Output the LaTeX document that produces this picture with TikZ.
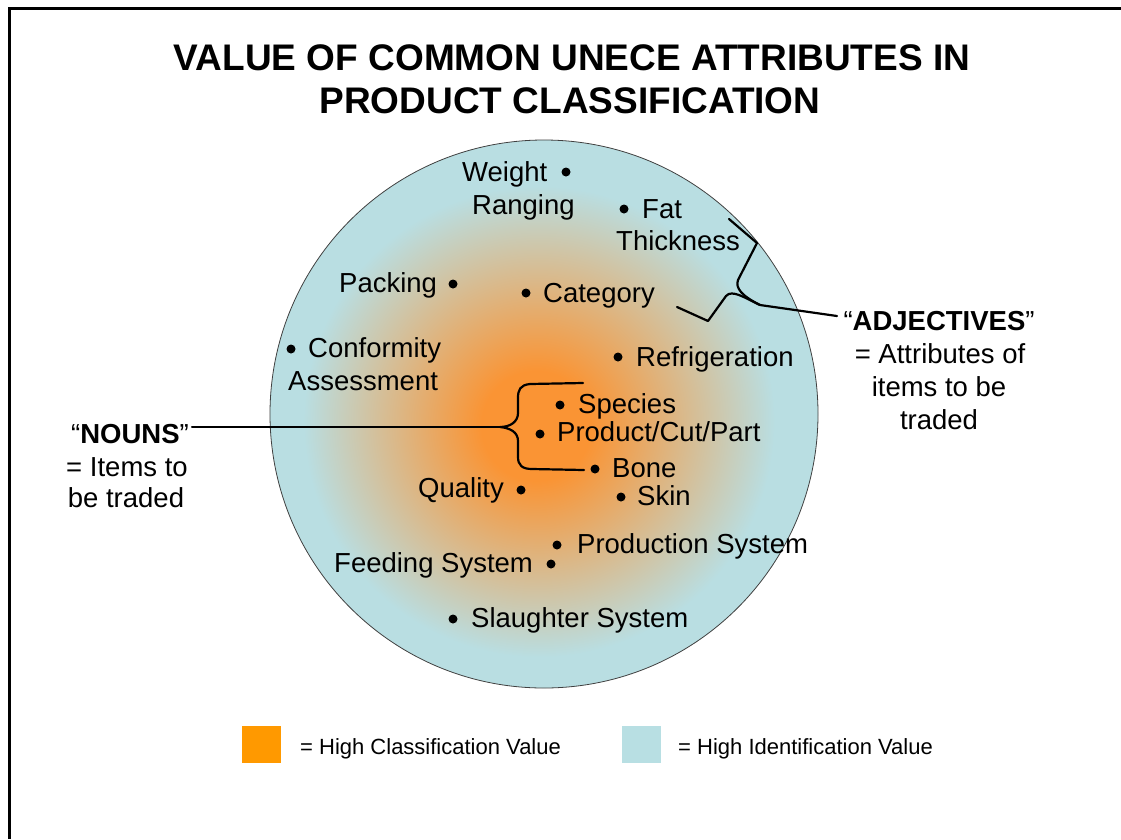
\documentclass[tikz,border=0pt]{standalone}
\usepackage{fontspec}
\setmainfont{Liberation Sans}
\definecolor{orng}{RGB}{250,148,52}
\definecolor{lblue}{RGB}{185,222,226}
\definecolor{legor}{RGB}{255,153,0}
\definecolor{legbl}{RGB}{184,223,227}
\pgfdeclareradialshading{orb}{\pgfpoint{-0.8bp}{-1.2bp}}{color(0bp)=(orng); color(5bp)=(orng); color(21.5bp)=(lblue); color(50bp)=(lblue)}
\begin{document}
\begin{tikzpicture}[x=1pt,y=-1pt,
  lab/.style={font=\fontsize{27.5}{32}\selectfont, inner sep=0pt, anchor=base west},
  blab/.style={font=\fontsize{27.5}{32}\selectfont, inner sep=0pt, anchor=base},
  bullet/.style={circle, fill=black, inner sep=0pt, minimum size=9pt},
  legtxt/.style={font=\fontsize{22}{26}\selectfont, inner sep=0pt, anchor=base west},
  ttl/.style={font=\fontsize{37}{44}\selectfont\bfseries, inner sep=0pt, anchor=base},
  brace/.style={line width=2.2pt, line join=round, line cap=round}]
\useasboundingbox (0,0) rectangle (1121,839);
\fill[white] (0,0) rectangle (1121,839);
% frame
\draw[line width=3pt] (9,839) -- (9,8) -- (1121,8);
% title
\node[ttl] (t1) at (572,70) {VALUE OF COMMON UNECE ATTRIBUTES IN};
\node[ttl] (t2) at (570,113) {PRODUCT CLASSIFICATION};
% circle
\shade[shading=orb] (544,414) circle (274);
\draw[line width=0.8pt, black!75] (544,414) circle (274);
% labels
\node[lab] (weight) at (462,181) {Weight};
\node[lab] (ranging) at (472,214) {Ranging};
\node[lab] (fat) at (642,218) {Fat};
\node[lab] (thick) at (616,250) {Thickness};
\node[lab] (packing) at (339,292) {Packing};
\node[lab] (category) at (543,302) {Category};
\node[lab] (conform) at (308,357) {Conformity};
\node[lab] (assess) at (288,390) {Assessment};
\node[lab] (refrig) at (636,366) {Refrigeration};
\node[lab] (species) at (578,413) {Species};
\node[lab] (product) at (557,441) {Product/Cut/Part};
\node[lab] (bone) at (612,477) {Bone};
\node[lab] (quality) at (418,497) {Quality};
\node[lab] (skin) at (637,505) {Skin};
\node[lab] (prodsys) at (577,553) {Production System};
\node[lab] (feeding) at (334,572) {Feeding System};
\node[lab] (slaught) at (471,627) {Slaughter System};
% bullets
\node[bullet] (bw) at (566,172) {};
\node[bullet] (bf) at (624,209) {};
\node[bullet] (bpk) at (453,284) {};
\node[bullet] (bc) at (526,293) {};
\node[bullet] (bcf) at (291,349) {};
\node[bullet] (br) at (618,357) {};
\node[bullet] (bs) at (560,405) {};
\node[bullet] (bp) at (540,434) {};
\node[bullet] (bb) at (595,469) {};
\node[bullet] (bq) at (521,490) {};
\node[bullet] (bsk) at (621,497) {};
\node[bullet] (bps) at (557,545) {};
\node[bullet] (bfs) at (551,564) {};
\node[bullet] (bsl) at (453,619) {};
% NOUNS
\node[blab] (nouns) at (130,443) {“\textbf{NOUNS}”};
\node[blab] (nouns2) at (127,476) {= Items to};
\node[blab] (nouns3) at (126,507) {be traded};
% ADJECTIVES
\node[blab] (adj) at (939,330) {“\textbf{ADJECTIVES}”};
\node[blab] (adj2) at (940,363) {= Attributes of};
\node[blab] (adj3) at (939,396) {items to be};
\node[blab] (adj4) at (939,429) {traded};
% noun brace
\coordinate (ncusp) at (500,427);
\draw[brace] (583,383) -- (530,384) .. controls (520,385) and (518,390) .. (518,398)
  -- (518,413) .. controls (518,422) and (510,427) .. (ncusp)
  .. controls (510,428) and (518,432) .. (518,441)
  -- (518,457) .. controls (518,465) and (522,469) .. (532,469) -- (584,470);
\draw[brace] (nouns.east |- ncusp) ++(3,0) -- (ncusp);
% adjective brace
\coordinate (acusp) at (760,305);
\draw[brace] (729,219) -- (757,243) -- (738,280) .. controls (735,288) and (742,296) .. (acusp);
\draw[brace] (677,307) -- (708,321) -- (726,296) .. controls (732,289) and (745,298) .. (acusp);
\draw[brace] (acusp) -- (837,316);
% legend
\node[fill=legor, minimum width=39pt, minimum height=37pt, inner sep=0pt] (lo) at (261.5,744.5) {};
\node[legtxt] (lot) at (300,754) {= High Classification Value};
\node[fill=legbl, minimum width=39pt, minimum height=37pt, inner sep=0pt] (lb) at (641.5,744.5) {};
\node[legtxt] (lbt) at (678,754) {= High Identification Value};
\end{tikzpicture}
\end{document}
